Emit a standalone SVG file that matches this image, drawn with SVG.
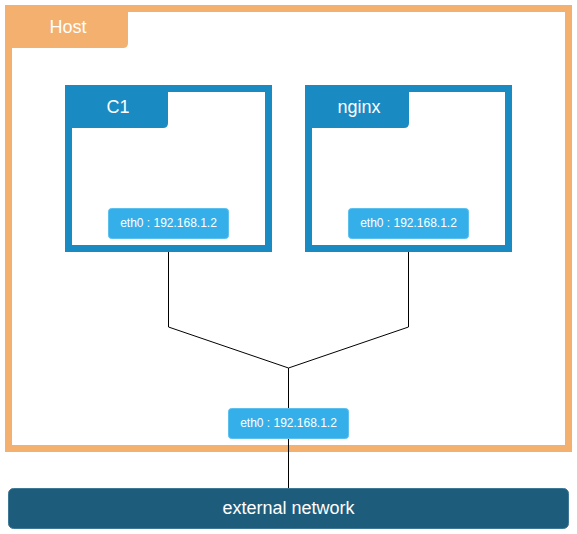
<svg xmlns="http://www.w3.org/2000/svg" width="577" height="534" viewBox="0 0 577 534">
<style>
text{font-family:"Liberation Sans",Arial,sans-serif;fill:#ffffff;text-anchor:middle;dominant-baseline:central}
.host{fill:#ffffff;stroke:#F4B06E;stroke-width:7}
.hosttab{fill:#F4B06E}
.cont{fill:#ffffff;stroke:#1A8AC3;stroke-width:7}
.conttab{fill:#1A8AC3}
.eth{fill:#35AFEA;stroke:#5CC0EE;stroke-width:1}
.ext{fill:#1E5C7C;stroke:#3E7896;stroke-width:1}
.t18{font-size:18px}
.t12{font-size:12px}
.conn{fill:none;stroke:#000000;stroke-width:1}
</style>
<g id="host">
<rect class="host" x="8.5" y="8.5" width="560" height="440"/>
<path class="hosttab" d="M5 5H128V43Q128 48 123 48H5Z"/>
<text class="t18" x="68" y="27">Host</text>
</g>
<g id="c1">
<rect class="cont" x="68.5" y="88.5" width="200" height="160"/>
<path class="conttab" d="M65 85H168V123Q168 128 163 128H65Z"/>
<text class="t18" x="118" y="107">C1</text>
</g>
<g id="nginx">
<rect class="cont" x="308.5" y="88.5" width="200" height="160"/>
<path class="conttab" d="M305 85H409V123Q409 128 404 128H305Z"/>
<text class="t18" x="359" y="107">nginx</text>
</g>
<g id="connectors">
<polyline class="conn" points="168.5,252 168.5,327 288.5,368"/>
<polyline class="conn" points="408.5,252 408.5,327 288.5,368"/>
<line class="conn" x1="288.5" y1="368" x2="288.5" y2="408"/>
<line class="conn" x1="288.5" y1="438" x2="288.5" y2="488"/>
</g>
<g id="c1-eth0">
<rect class="eth" x="108.5" y="208.5" width="120" height="30" rx="3"/>
<text class="t12" x="168.5" y="223">eth0 : 192.168.1.2</text>
</g>
<g id="nginx-eth0">
<rect class="eth" x="348.5" y="208.5" width="120" height="30" rx="3"/>
<text class="t12" x="408.5" y="223">eth0 : 192.168.1.2</text>
</g>
<g id="host-eth0">
<rect class="eth" x="228.5" y="408.5" width="120" height="30" rx="3"/>
<text class="t12" x="288.5" y="423">eth0 : 192.168.1.2</text>
</g>
<g id="external-network">
<rect class="ext" x="8.5" y="488.5" width="560" height="40" rx="5"/>
<text class="t18" x="288.5" y="508">external network</text>
</g>
</svg>
